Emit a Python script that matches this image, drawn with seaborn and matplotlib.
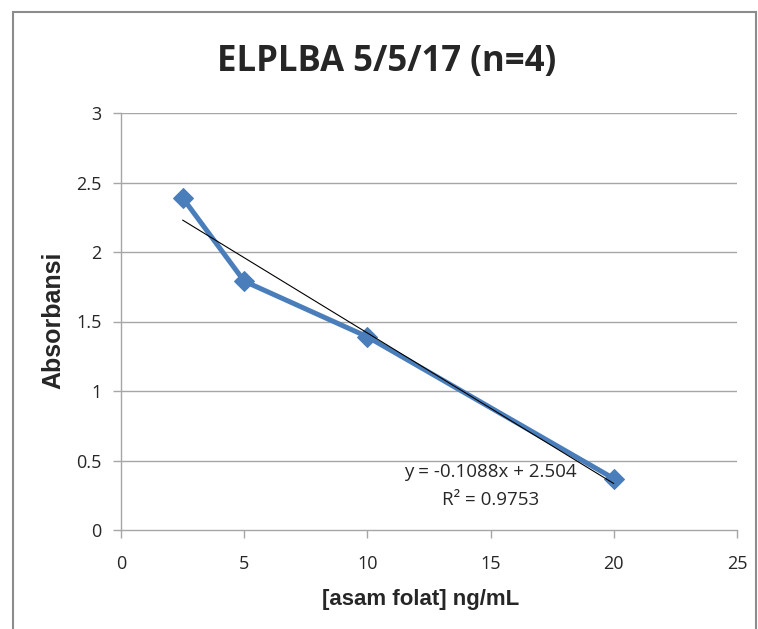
import matplotlib
matplotlib.use("Agg")
import matplotlib.pyplot as plt
import seaborn as sns
import pandas as pd
import numpy as np
from matplotlib.patches import Rectangle

# Data
conc = [2.5, 5, 10, 20]
absorb = [2.39, 1.79, 1.39, 0.37]
x_ticks = [0, 5, 10, 15, 20, 25]
y_ticks = [0, 0.5, 1, 1.5, 2, 2.5, 3]
y_tick_labels = ["0", "0.5", "1", "1.5", "2", "2.5", "3"]
title = "ELPLBA 5/5/17 (n=4)"
xlabel = "[asam folat] ng/mL"
ylabel = "Absorbansi"
eq_text = "y = -0.1088x + 2.504"
r2_text = "R² = 0.9753"

df = pd.DataFrame({"conc": conc, "absorb": absorb})

sns.set_theme(style="white")
plt.rcParams['font.family'] = ['Open Sans', 'DejaVu Sans']

fig = plt.figure(figsize=(7.58, 6.29), dpi=100)
ax = fig.add_axes([121/758, 1-530/629, (737-121)/758, (530-113)/629])

grid_c = "#a6a6a6"
for yv in y_ticks[1:]:
    ax.axhline(yv, color=grid_c, lw=1.0, zorder=0)

sns.lineplot(data=df, x="conc", y="absorb", ax=ax, color="#4a7ebb", lw=3.6,
             marker="D", markersize=10, markeredgecolor="#4a7ebb", zorder=3)
sns.regplot(data=df, x="conc", y="absorb", ax=ax, scatter=False, ci=None,
            truncate=True, line_kws=dict(color="black", lw=0.8, zorder=4))

ax.set_xlim(0, 25)
ax.set_ylim(0, 3)
ax.set_xticks(x_ticks)
ax.set_xticklabels([str(t) for t in x_ticks])
ax.set_yticks(y_ticks)
ax.set_yticklabels(y_tick_labels)
for s in ["top", "right"]:
    ax.spines[s].set_visible(False)
for s in ["left", "bottom"]:
    ax.spines[s].set_color(grid_c)
    ax.spines[s].set_linewidth(1.0)
ax.tick_params(axis="both", which="major", direction="out", length=6, width=1.0,
               color=grid_c, labelsize=13, labelcolor="#262626")
ax.tick_params(axis="y", pad=8)
ax.tick_params(axis="x", pad=12)
ax.tick_params(axis="both", left=True, bottom=True)

ax.set_xlabel(xlabel, family=["Liberation Sans", "DejaVu Sans"], fontsize=16,
              fontweight="bold", va="center")
ax.set_ylabel(ylabel, family=["Liberation Sans", "DejaVu Sans"], fontsize=18,
              fontweight="bold", va="center")
ax.xaxis.set_label_coords((421-121)/616, (530-600)/417)
ax.yaxis.set_label_coords((53-121)/616, (530-320)/417)

fig.text(387/758, 1-62/629, title, ha="center", va="center", fontsize=25,
         fontweight="bold", family=["Open Sans", "DejaVu Sans"])

ax.text(15.0, 0.417, eq_text, ha="center", va="center", fontsize=13.5, color="#262626", zorder=5)
ax.text(15.0, 0.216, r2_text, ha="center", va="center", fontsize=13.5, color="#262626", zorder=5)

fig.patches.append(Rectangle((13/758, -0.05), (756-13)/758, 1.05 - 12/629,
                             transform=fig.transFigure, fill=False,
                             edgecolor="#8c8c8c", lw=1.5))

fig.savefig("out.png", dpi=100)
